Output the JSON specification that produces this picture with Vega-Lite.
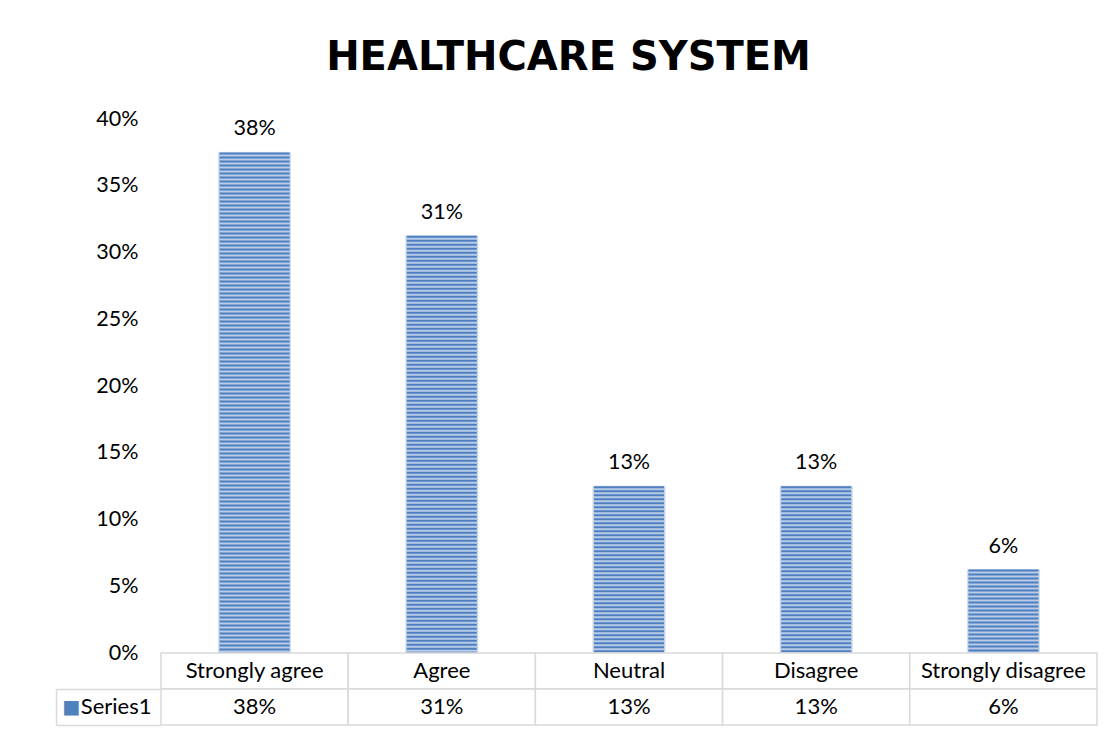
{
  "$schema": "https://vega.github.io/schema/vega-lite/v6.json",
  "padding": {"left": 55, "top": 38, "right": 20, "bottom": 5},
  "background": "white",
  "title": {"text": "HEALTHCARE SYSTEM", "font": "DejaVu Sans", "fontSize": 40, "fontWeight": "bold", "color": "black", "anchor": "middle", "offset": 30, "dx": -8},
  "config": {"view": {"stroke": null}, "font": "Lato", "concat": {"spacing": 0}},
  "data": {"values": [
    {"response": "Strongly agree", "share": 0.375},
    {"response": "Agree", "share": 0.3125},
    {"response": "Neutral", "share": 0.125},
    {"response": "Disagree", "share": 0.125},
    {"response": "Strongly disagree", "share": 0.0625}
  ]},
  "spacing": 0,
  "bounds": "flush",
  "resolve": {"scale": {"x": "independent"}},
  "vconcat": [
    {
      "width": 936,
      "height": 534,
      "encoding": {
        "x": {"field": "response", "type": "nominal", "sort": null, "scale": {"paddingInner": 0.615, "paddingOuter": 0.3075}, "axis": null},
        "y": {"field": "share", "type": "quantitative", "scale": {"domain": [0, 0.4], "nice": false},
          "axis": {"values": [0, 0.05, 0.1, 0.15, 0.2, 0.25, 0.3, 0.35, 0.4], "format": ".0%", "domain": false, "ticks": false, "grid": false, "labelPadding": 23, "labelFontSize": 21.5, "labelColor": "black", "labelFont": "Lato", "title": null}}
      },
      "layer": [
        {"mark": {"type": "bar", "fill": "#b9cce8", "stroke": "#d3dff1", "strokeWidth": 1}},
        {"mark": {"type": "rule", "stroke": "#4f7fc0", "strokeWidth": 70, "strokeDash": [2, 2], "strokeCap": "butt"},
         "encoding": {"y2": {"datum": 0}}},
        {"mark": {"type": "text", "baseline": "alphabetic", "dy": -17, "fontSize": 21.5, "color": "black", "font": "Lato"},
         "encoding": {"text": {"field": "share", "type": "quantitative", "format": ".0%"}}}
      ]
    },
    {
      "width": 936,
      "height": 72,
      "encoding": {
        "x": {"field": "response", "type": "nominal", "sort": null, "scale": {"paddingInner": 0, "paddingOuter": 0}, "axis": null}
      },
      "resolve": {"axis": {"y": "independent"}},
      "layer": [
        {"mark": {"type": "rect", "fill": "white", "stroke": "#d9d9d9", "strokeWidth": 1.5},
         "encoding": {"y": {"datum": "header", "type": "nominal", "scale": {"domain": ["header", "Series1"], "paddingInner": 0, "paddingOuter": 0},
           "axis": {"orient": "left", "domain": false, "ticks": true, "tickSize": 105, "tickColor": "#d9d9d9", "tickWidth": 1.5, "bandPosition": 1, "labelExpr": "datum.value == 'Series1' ? 'Series1' : ''", "labelPadding": -95, "labelFontSize": 22, "labelColor": "black", "labelFont": "Lato", "labelBaseline": "middle", "title": null, "grid": false}}}},
        {"mark": {"type": "rect", "fill": "white", "stroke": "#d9d9d9", "strokeWidth": 1.5},
         "encoding": {"y": {"datum": "Series1", "type": "nominal", "axis": null}}},
        {"mark": {"type": "text", "fontSize": 22, "color": "black", "font": "Lato", "baseline": "middle"},
         "encoding": {"y": {"datum": "header", "type": "nominal", "axis": null}, "text": {"field": "response", "type": "nominal"}}},
        {"mark": {"type": "text", "fontSize": 22, "color": "black", "font": "Lato", "baseline": "middle"},
         "encoding": {"y": {"datum": "Series1", "type": "nominal", "axis": null}, "text": {"field": "share", "type": "quantitative", "format": ".0%"}}},
        {"mark": {"type": "point", "opacity": 0},
         "encoding": {"y": {"datum": "Series1", "type": "nominal",
           "axis": {"orient": "left", "offset": 105, "domain": true, "domainColor": "#d9d9d9", "domainWidth": 1.5, "domainDash": [0, 36, 36, 0], "ticks": false, "grid": false, "labelExpr": "datum.value == 'Series1' ? '■' : ''", "labelAlign": "left", "labelPadding": -6, "labelColor": "#4f81bd", "labelFontSize": 19, "labelFont": "DejaVu Sans", "labelBaseline": "middle", "title": null}}}}
      ]
    }
  ]
}
